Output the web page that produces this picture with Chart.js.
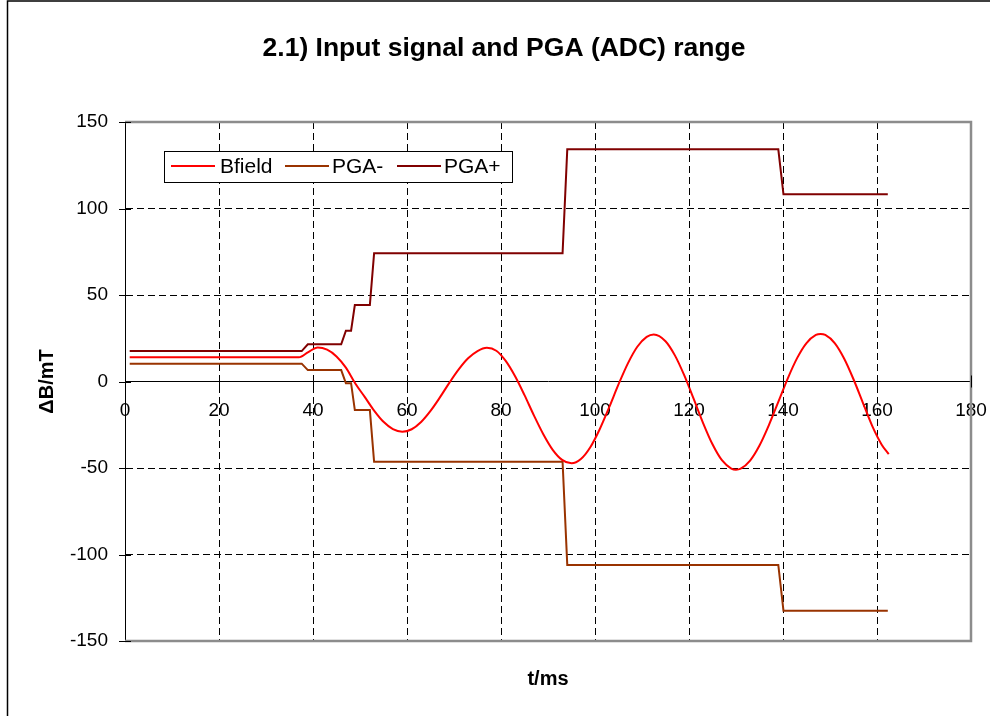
<!DOCTYPE html>
<html>
<head>
<meta charset="utf-8">
<title>2.1) Input signal and PGA (ADC) range</title>
<script src="https://cdn.jsdelivr.net/npm/chart.js@4.4.1/dist/chart.umd.min.js"></script>
<style>
  html, body { margin: 0; padding: 0; background: #fff; }
  canvas { display: block; }
</style>
</head>
<body>
<canvas id="grafico" width="990" height="716"></canvas>
<script>
// valores (t em ms, campo em mT)
const tempoB = [1, 35, 37, 39, 41, 43, 45, 47, 49, 51, 53, 55, 57, 59, 61, 63, 65, 67, 69, 71, 73, 75, 77,
    79, 81, 83, 85, 87, 89, 91, 93, 95, 97, 99, 101, 103, 105, 107, 109, 111, 112.5, 115, 117, 119, 121,
    123, 125, 127, 129, 130, 131, 133, 135, 137, 139, 141, 143, 145, 147, 148, 149, 151, 153, 155, 157,
    159, 161, 162.5];
const bfield = [14.0, 14.0, 14.0, 17.0, 19.7, 18.4, 14.5, 8.0, -1.2, -8.9, -16.8, -23.3, -27.5, -29.0,
    -27.6, -23.4, -17.0, -9.2, -0.8, 7.0, 13.4, 17.6, 19.5, 17.8, 11.9, 3.0, -7.9, -19.6, -30.5, -39.5,
    -45.3, -47.3, -44.8, -38.0, -27.6, -15.0, -1.7, 10.5, 20.1, 25.8, 27.2, 23.3, 15.1, 3.5, -10.1,
    -24.0, -36.3, -45.5, -50.3, -51.0, -50.4, -45.7, -37.0, -25.2, -11.8, 1.7, 13.5, 22.2, 26.9, 27.5,
    26.9, 22.2, 13.3, 1.3, -12.3, -25.8, -36.5, -42.0];

const tempoPGA = [1, 37.6, 38.9, 46.0, 47.0, 48.1, 48.9, 52.1, 53.0, 93.1, 94.1, 139.0, 140.1, 162.3];
const pgaMenos = [10.3, 10.3, 6.6, 6.6, -1.0, -1.0, -16.5, -16.5, -46.4, -46.4, -106, -106, -132.5, -132.5];
const pgaMais = [17.6, 17.6, 21.5, 21.5, 29.4, 29.4, 44.2, 44.2, 74.1, 74.1, 134.2, 134.2, 108.2, 108.2];

const nomesSeries = ['Bfield', 'PGA-', 'PGA+'];
const coresSeries = ['#ff0000', '#993300', '#800000'];

const fonte = '"Liberation Sans", Arial, Helvetica, sans-serif';

function pontos(ts, vs) {
    return ts.map((t, i) => ({ x: t, y: vs[i] }));
}

// moldura, marcas dos eixos, títulos e legenda no estilo do Excel
const moldura = {
    id: 'moldura',
    afterDraw(chart) {
        const ctx = chart.ctx;
        const area = chart.chartArea;
        const sx = chart.scales.x;
        const sy = chart.scales.y;
        const y0 = sy.getPixelForValue(0);
        ctx.save();

        ctx.strokeStyle = '#000';
        ctx.lineWidth = 1.5;
        ctx.beginPath();
        ctx.moveTo(7.5, 716);
        ctx.lineTo(7.5, 1);
        ctx.lineTo(990, 1);
        ctx.stroke();

        ctx.strokeStyle = '#8c8c8c';
        ctx.lineWidth = 2.5;
        ctx.beginPath();
        ctx.moveTo(area.left, area.top);
        ctx.lineTo(area.right, area.top);
        ctx.lineTo(area.right, area.bottom);
        ctx.lineTo(area.left, area.bottom);
        ctx.stroke();

        ctx.strokeStyle = '#000';
        ctx.lineWidth = 1;
        sy.ticks.forEach(tk => {
            const p = Math.round(sy.getPixelForValue(tk.value)) + 0.5;
            ctx.beginPath();
            ctx.moveTo(area.left - 6, p);
            ctx.lineTo(area.left + 6, p);
            ctx.stroke();
        });
        sx.ticks.forEach(tk => {
            const p = Math.round(sx.getPixelForValue(tk.value)) + 0.5;
            ctx.beginPath();
            ctx.moveTo(p, y0 - 6);
            ctx.lineTo(p, y0 + 6);
            ctx.stroke();
        });

        ctx.fillStyle = '#000';
        ctx.textBaseline = 'alphabetic';
        ctx.textAlign = 'center';
        ctx.font = 'bold 26.5px ' + fonte;
        ctx.fillText('2.1) Input signal and PGA (ADC) range', 504, 56);
        ctx.font = 'bold 20px ' + fonte;
        ctx.fillText('t/ms', (area.left + area.right) / 2, 685);
        ctx.save();
        ctx.translate(53, (area.top + area.bottom) / 2);
        ctx.rotate(-Math.PI / 2);
        ctx.fillText('\u0394B/mT', 0, 0);
        ctx.restore();

        // legenda
        ctx.fillStyle = '#fff';
        ctx.fillRect(164.5, 151.5, 348, 31);
        ctx.strokeStyle = '#000';
        ctx.lineWidth = 1;
        ctx.strokeRect(164.5, 151.5, 348, 31);
        const linhas = [[171, 215, 220], [285, 329, 332], [397, 441, 444]];
        ctx.font = '21px ' + fonte;
        ctx.textAlign = 'left';
        ctx.textBaseline = 'middle';
        linhas.forEach((l, i) => {
            ctx.strokeStyle = coresSeries[i];
            ctx.lineWidth = 2;
            ctx.beginPath();
            ctx.moveTo(l[0], 166);
            ctx.lineTo(l[1], 166);
            ctx.stroke();
            ctx.fillStyle = '#000';
            ctx.fillText(nomesSeries[i], l[2], 167);
        });
        ctx.restore();
    }
};

const gradeCor = (ocultos) => (c) => ocultos.includes(c.tick.value) ? 'rgba(0,0,0,0)' : '#000';

new Chart(document.getElementById('grafico').getContext('2d'), {
    type: 'line',
    data: {
        datasets: [
            {
                label: nomesSeries[0],
                data: pontos(tempoB, bfield),
                borderColor: coresSeries[0],
                borderWidth: 2,
                pointRadius: 0,
                cubicInterpolationMode: 'monotone',
            },
            {
                label: nomesSeries[1],
                data: pontos(tempoPGA, pgaMenos),
                borderColor: coresSeries[1],
                borderWidth: 2,
                pointRadius: 0,
                tension: 0,
            },
            {
                label: nomesSeries[2],
                data: pontos(tempoPGA, pgaMais),
                borderColor: coresSeries[2],
                borderWidth: 2,
                pointRadius: 0,
                tension: 0,
            },
        ],
    },
    options: {
        responsive: false,
        animation: false,
        devicePixelRatio: 1,
        layout: { padding: { top: 122, right: 19, bottom: 75, left: 0 } },
        plugins: {
            legend: { display: false },
            title: { display: false },
            tooltip: { enabled: false },
        },
        scales: {
            x: {
                type: 'linear',
                position: { y: 0 },
                min: 0,
                max: 180,
                ticks: {
                    stepSize: 20,
                    color: '#000',
                    padding: 18,
                    maxRotation: 0,
                    font: { family: fonte, size: 19 },
                },
                grid: { color: gradeCor([0, 180]), lineWidth: 1, drawTicks: false },
                border: { display: true, color: '#000', width: 1, dash: [7, 4] },
                afterFit: function (scale) {
                    scale.height = 0;
                    scale.paddingLeft = 0;
                    scale.paddingRight = 0;
                },
            },
            y: {
                type: 'linear',
                position: 'left',
                min: -150,
                max: 150,
                ticks: {
                    stepSize: 50,
                    color: '#000',
                    padding: 17,
                    font: { family: fonte, size: 19 },
                },
                grid: { color: gradeCor([150, 0, -150]), lineWidth: 1, drawTicks: false },
                border: { display: true, color: '#000', width: 1, dash: [7, 4] },
                afterFit: function (scale) {
                    scale.width = 125;
                    scale.paddingTop = 0;
                    scale.paddingBottom = 0;
                },
            },
        },
    },
    plugins: [moldura],
});
</script>
</body>
</html>
